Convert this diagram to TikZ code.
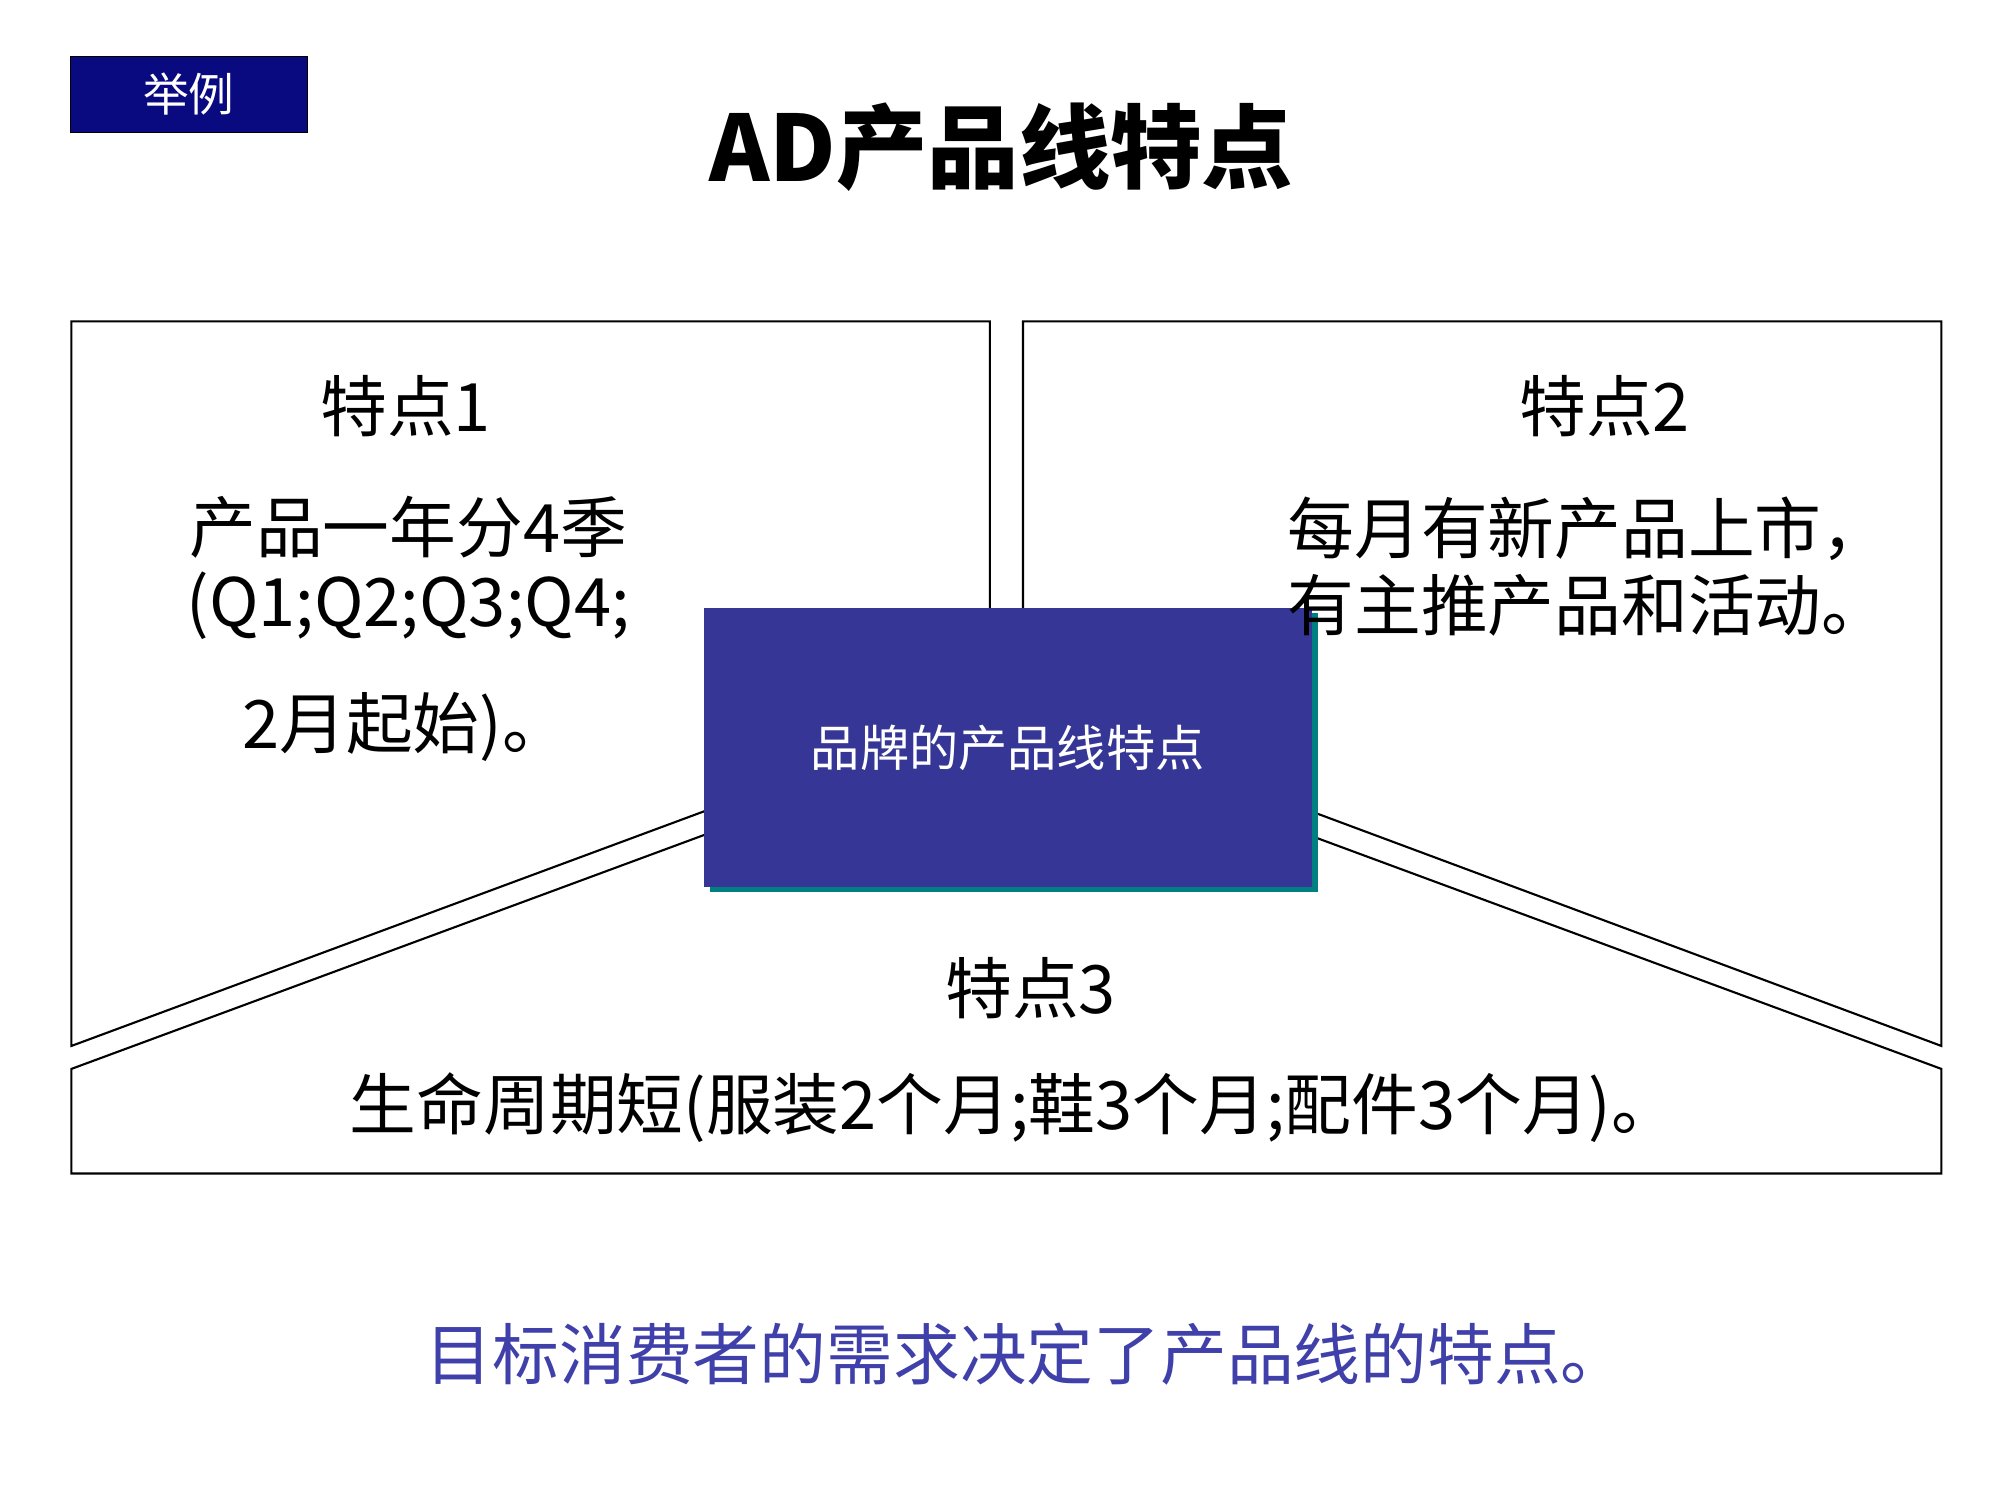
\documentclass[tikz,border=0pt]{standalone}
\usepackage{fontspec}
\setmainfont{Noto Sans CJK SC}
\usetikzlibrary{shadows}
\definecolor{navy}{RGB}{10,10,128}
\definecolor{boxblue}{RGB}{54,54,150}
\definecolor{noteblue}{RGB}{64,64,170}
\definecolor{shadowteal}{RGB}{0,128,128}
\tikzset{
	panel/.style = {draw = black, line width = 0.6pt, fill = white},
	head/.style = {font = \fontsize{19}{22}\selectfont},
	body/.style = {font = \fontsize{19}{22}\selectfont, align = center}
}

\begin{document}
\begin{tikzpicture}[x=0.012755cm, y=-0.012755cm]
		\useasboundingbox (0,0) rectangle (1568,1176);
		\node (tag) [fill = navy, draw = black, minimum width = 2.37cm, minimum height = 0.76cm, text = white, font = \fontsize{13}{15}\selectfont] at (148,74) {举例};
		\node (title) [font = \fontsize{26}{30}\selectfont\bfseries] at (785,115) {AD产品线特点};
		%
		\draw [panel] (56,820) -- (56,252) -- (776,252) -- (776,553) -- cycle;
		\draw [panel] (1522,820) -- (1522,252) -- (802,252) -- (802,552) -- cycle;
		\draw [panel] (56,920) -- (56,838) -- (789,567) -- (1522,838) -- (1522,920) -- cycle;
		%
		\node (center) [fill = boxblue, minimum width = 6.08cm, minimum height = 2.79cm, text = white, font = \fontsize{14}{16}\selectfont, drop shadow = {shadow xshift = 0.06cm, shadow yshift = -0.05cm, fill = shadowteal, opacity = 1}] at (790,586) {品牌的产品线特点};
		%
		\node (h1) [head] at (318,318) {特点1};
		\node (t1a) [body] at (320,413) {产品一年分4季};
		\node (t1b) [body] at (320,475) {(Q1;Q2;Q3;Q4;};
		\node (t1c) [body] at (318,570) {2月起始)。};
		%
		\node (h2) [head] at (1258,318) {特点2};
		\node (t2) [body, align = left] at (1245,444) {每月有新产品上市，\\有主推产品和活动。};
		%
		\node (h3) [head] at (808,775) {特点3};
		\node (t3) [body] at (795,868) {生命周期短(服装2个月;鞋3个月;配件3个月)。};
		%
		\node (note) [body, text = noteblue] at (805,1062) {目标消费者的需求决定了产品线的特点。};
	\end{tikzpicture}
\end{document}
